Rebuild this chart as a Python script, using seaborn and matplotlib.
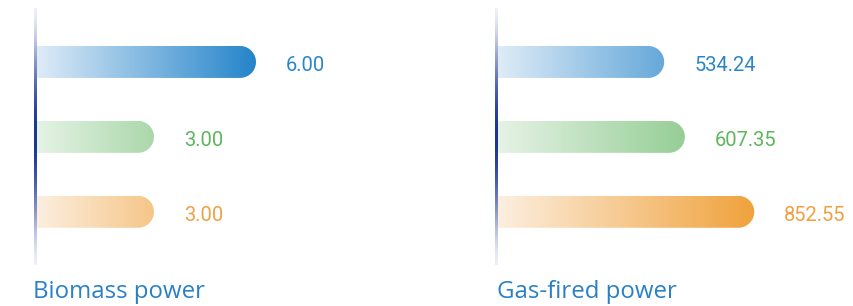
import numpy as np
import pandas as pd
import matplotlib
matplotlib.use("Agg")
import matplotlib.pyplot as plt
import seaborn as sns
from matplotlib.path import Path
from matplotlib.patches import PathPatch
from matplotlib.colors import to_rgb

# data
series = ["Series 1", "Series 2", "Series 3"]
biomass_values = [6.00, 3.00, 3.00]
gas_values = [534.24, 607.35, 852.55]
panel_titles = ["Biomass power", "Gas-fired power"]

# styling
start_colors = ["#dfecf7", "#e6f3e6", "#fcefe0"]
end_colors = ["#2484ca", "#78c078", "#f0a23c"]
label_colors = ["#2a86c8", "#5cb65c", "#f0a045"]
title_color = "#2a80c6"

W, H = 854, 306
fig = plt.figure(figsize=(W / 100, H / 100), dpi=100)
sns.set_style("white")
plt.rcParams["font.family"] = ["Roboto", "DejaVu Sans"]

# axes placement in pixels: left, width, px per unit
panels = [
    dict(values=biomass_values, left=36, width=400, scale=34.0, title_x=33),
    dict(values=gas_values, left=497, width=345, scale=0.283, title_x=497),
]
top_px, bottom_px = 8, 265
bar_h_px = 32
cap_r = bar_h_px / 2

for p, title in zip(panels, panel_titles):
    ax = fig.add_axes([p["left"] / W, 1 - bottom_px / H, p["width"] / W, (bottom_px - top_px) / H])
    df = pd.DataFrame({"series": series, "value": p["values"]})
    sns.barplot(data=df, x="value", y="series", hue="series", palette=end_colors,
                width=bar_h_px / 75, legend=False, ax=ax)
    xmax = p["width"] / p["scale"]
    ax.set_xlim(0, xmax)
    ax.set_ylim(2.71, -0.72)
    ax.axis("off")

    # cap radius in data units (x)
    r_data = cap_r / p["scale"]
    grad_end = max(p["values"]) + r_data
    for i, bar in enumerate(list(ax.patches)):
        x0 = bar.get_x()
        x1 = x0 + bar.get_width()
        y0 = bar.get_y()
        y1 = y0 + bar.get_height()
        yc = (y0 + y1) / 2
        bar.set_visible(False)
        # rounded right end, built in display space
        d0 = ax.transData.transform((x0, y0))
        d1 = ax.transData.transform((x1, y1))
        dc = ax.transData.transform((x1, yc))
        r = abs(d1[1] - d0[1]) / 2
        lo, hi = sorted([d0[1], d1[1]])
        th = np.linspace(-np.pi / 2, np.pi / 2, 40)
        verts = [(d0[0], lo), (d1[0], lo)]
        verts += [(dc[0] + r * np.cos(t), dc[1] + r * np.sin(t)) for t in th]
        verts += [(d0[0], hi), (d0[0], lo)]
        verts = ax.transData.inverted().transform(np.array(verts))
        clip = PathPatch(Path(verts, closed=True), facecolor="none", edgecolor="none")
        ax.add_patch(clip)
        c0 = np.array(to_rgb(start_colors[i]))
        c1 = np.array(to_rgb(end_colors[i]))
        t = np.linspace(0, 1, 256)[None, :, None]
        grad = c0 + (c1 - c0) * t
        im = ax.imshow(grad, extent=[0, grad_end, y1, y0], aspect="auto",
                       interpolation="bilinear", zorder=2)
        im.set_clip_path(clip)

        v = p["values"][i]
        ax.annotate(f"{v:.2f}", xy=(x1, yc), xytext=((cap_r + 30) * 0.72, -1),
                    textcoords="offset points", ha="left", va="center_baseline",
                    color=label_colors[i], fontsize=14.5, zorder=5)

    # gradient axis line as a thin vertical image
    ys = np.linspace(0, 1, 200)
    w = np.sin(np.pi * ys) ** 1.5
    light = np.array(to_rgb("#eef0f8"))
    dark = np.array(to_rgb("#1a3694"))
    line_img = (light + (dark - light) * w[:, None])[:, None, :]
    half = 1.5 / p["scale"]
    ax.imshow(line_img, extent=[-half, half, 2.71, -0.72], aspect="auto",
              interpolation="bilinear", zorder=6, clip_on=False)

    ax.set_xlim(0, xmax)
    ax.set_ylim(2.71, -0.72)

    fig.text(p["title_x"] / W, 1 - 298 / H, title, color=title_color, fontsize=17.3,
             family=["Open Sans", "DejaVu Sans"], va="baseline", ha="left")

fig.savefig("out.png", dpi=100)
